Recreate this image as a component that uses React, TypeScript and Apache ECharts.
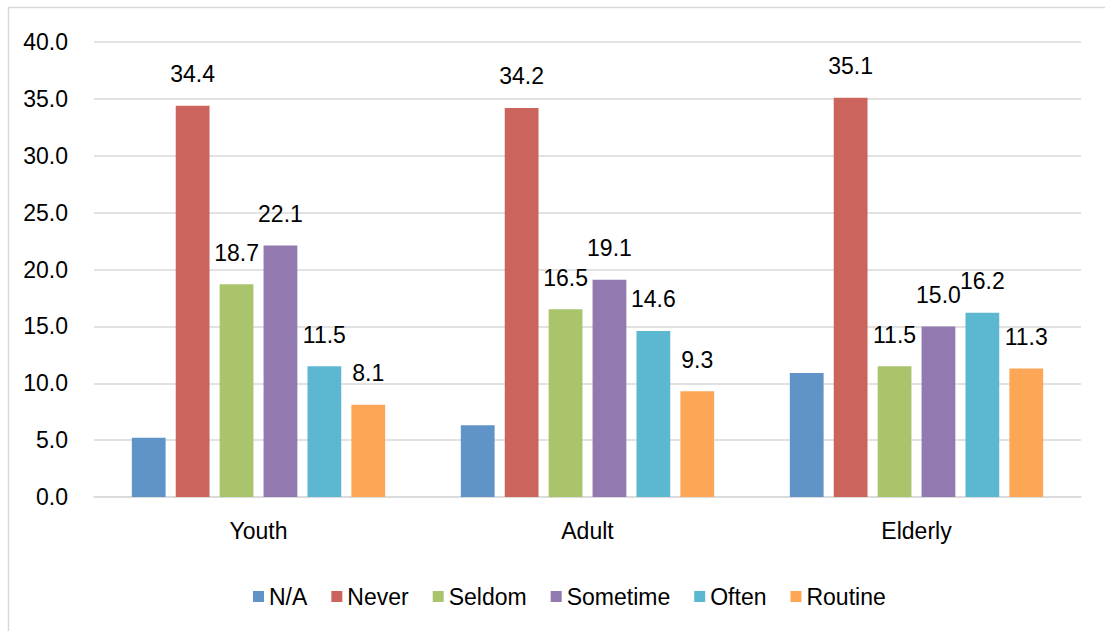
import React, { useEffect, useRef } from "react";
import * as echarts from "echarts";

const categories = ["Youth", "Adult", "Elderly"];
const seriesNames = ["N/A", "Never", "Seldom", "Sometime", "Often", "Routine"];
const naValues = [5.2, 6.3, 10.9];
const neverValues = [34.4, 34.2, 35.1];
const seldomValues = [18.7, 16.5, 11.5];
const sometimeValues = [22.1, 19.1, 15.0];
const oftenValues = [11.5, 14.6, 16.2];
const routineValues = [8.1, 9.3, 11.3];
const colors = ["#6094c9", "#cc645e", "#aac46c", "#9279b0", "#5cb8d1", "#fca656"];
const showLabel = [false, true, true, true, true, true];

const FONT = "'Liberation Sans', Arial, sans-serif";

export default function App() {
  const ref = useRef<HTMLDivElement>(null);
  useEffect(() => {
    if (!ref.current) return;
    const chart = echarts.init(ref.current, null, { renderer: "svg" });
    const allValues = [naValues, neverValues, seldomValues, sometimeValues, oftenValues, routineValues];
    chart.setOption({
      animation: false,
      backgroundColor: "#ffffff",
      textStyle: { fontFamily: FONT },
      graphic: [
        {
          type: "rect",
          shape: { x: 8.5, y: 7.5, width: 1110, height: 640 },
          style: { fill: "none", stroke: "#d9d9d9", lineWidth: 1.5 },
          silent: true,
        },
      ],
      grid: { left: 94, right: 24, top: 42, bottom: 134, containLabel: false },
      legend: {
        data: seriesNames,
        left: 248,
        top: 580,
        itemWidth: 11,
        itemHeight: 11,
        itemGap: 24,
        icon: "rect",
        textStyle: { fontFamily: FONT, fontSize: 23, color: "#000000" },
      },
      xAxis: {
        type: "category",
        data: categories,
        axisLine: { lineStyle: { color: "#d9d9d9", width: 1.5 } },
        axisTick: { show: false },
        axisLabel: { fontFamily: FONT, fontSize: 23, color: "#000000", margin: 22 },
      },
      yAxis: {
        type: "value",
        min: 0,
        max: 40,
        interval: 5,
        axisLine: { show: false },
        axisTick: { show: false },
        splitLine: { lineStyle: { color: "#d9d9d9", width: 1.5 } },
        axisLabel: {
          fontFamily: FONT,
          fontSize: 23,
          color: "#000000",
          margin: 26,
          formatter: (v: number) => v.toFixed(1),
        },
      },
      series: seriesNames.map((name, i) => ({
        name,
        type: "bar",
        data: allValues[i],
        barGap: "30%",
        barCategoryGap: "23%",
        itemStyle: { color: colors[i] },
        label: {
          show: showLabel[i],
          position: "top",
          distance: 20,
          fontFamily: FONT,
          fontSize: 23,
          color: "#000000",
          formatter: (p: any) => Number(p.value).toFixed(1),
        },
      })),
    });
    return () => chart.dispose();
  }, []);
  return (
    <div
      ref={ref}
      style={{ position: "fixed", left: 0, top: 0, width: 1105, height: 631 }}
    />
  );
}
